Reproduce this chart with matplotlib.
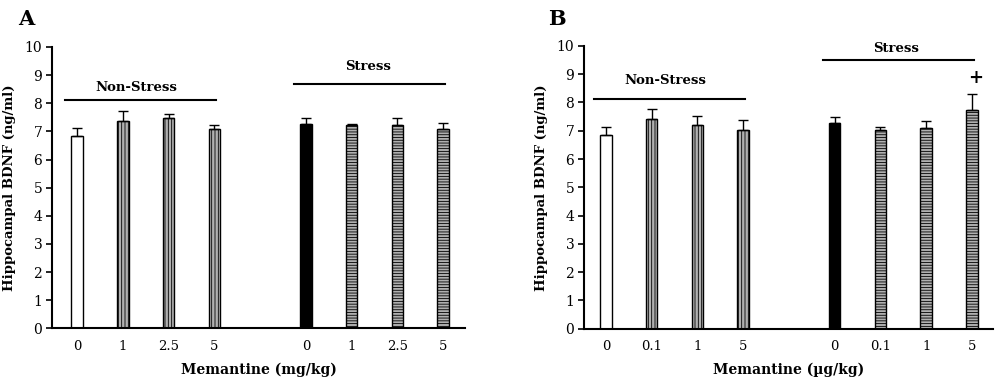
import matplotlib
matplotlib.use("Agg")
import matplotlib.pyplot as plt

plt.rcParams['font.family'] = ['DejaVu Serif']
plt.rcParams['hatch.linewidth'] = 0.6

# bar order: non-stress 4 doses, then stress 4 doses
a_labels = ['0', '1', '2.5', '5', '0', '1', '2.5', '5']
a_means = [6.84, 7.37, 7.48, 7.08, 7.28, 7.21, 7.21, 7.09]
a_sem = [0.29, 0.37, 0.14, 0.16, 0.19, 0.06, 0.27, 0.21]

b_labels = ['0', '0.1', '1', '5', '0', '0.1', '1', '5']
b_means = [6.84, 7.40, 7.19, 7.02, 7.28, 7.02, 7.09, 7.72]
b_sem = [0.28, 0.37, 0.32, 0.35, 0.21, 0.10, 0.27, 0.59]

positions = [0, 1, 2, 3, 5, 6, 7, 8]


def draw_panel(ax, labels, means, sem, xlim, stress_y, stress_txt_y, ns_txt_y):
    faces = ['white', '#b0b0b0', '#b0b0b0', '#b0b0b0', 'black', '#b0b0b0', '#b0b0b0', '#b0b0b0']
    hatches = [None, '|||||', '|||||', '|||||', None, '------', '------', '------']
    for x, m, s, fc, h in zip(positions, means, sem, faces, hatches):
        ax.bar(x, m, width=0.25, color=fc, edgecolor='black', linewidth=1.0,
               hatch=h, zorder=2)
        ax.errorbar(x, m, yerr=[[0], [s]], fmt='none', ecolor='black',
                    elinewidth=1.0, capsize=3.5, capthick=1.0, zorder=3)

    ax.set_xlim(*xlim)
    ax.set_ylim(0, 10)
    ax.set_yticks(range(0, 11))
    ax.set_xticks(positions)
    ax.set_xticklabels(labels)
    ax.tick_params(axis='x', length=0, pad=8, labelsize=9.5)
    ax.tick_params(axis='y', length=4, width=1.2, pad=3, labelsize=10)
    ax.spines['top'].set_visible(False)
    ax.spines['right'].set_visible(False)
    ax.spines['left'].set_linewidth(1.5)
    ax.spines['bottom'].set_linewidth(1.5)

    # group bars
    ax.plot([-0.27, 3.03], [8.13, 8.13], color='black', lw=1.5, clip_on=False)
    ax.text(1.3, ns_txt_y, 'Non-Stress', ha='center', va='center',
            fontsize=9.5, fontweight='bold')
    ax.plot([4.75, 8.05], [stress_y, stress_y], color='black', lw=1.5, clip_on=False)
    ax.text(6.35, stress_txt_y, 'Stress', ha='center', va='center',
            fontsize=9.5, fontweight='bold', clip_on=False)

    ax.set_ylabel('Hippocampal BDNF (ng/ml)', fontsize=9.5, fontweight='bold', labelpad=6)


fig = plt.figure(figsize=(10, 3.85), dpi=100)
ax1 = fig.add_axes([0.052, 0.147, 0.413, 0.731])
ax2 = fig.add_axes([0.584, 0.146, 0.409, 0.735])

draw_panel(ax1, a_labels, a_means, a_sem, (-0.55, 8.48), 8.68, 9.3, 8.56)
draw_panel(ax2, b_labels, b_means, b_sem, (-0.48, 8.46), 9.49, 9.9, 8.79)

ax2.text(8.07, 8.85, '+', ha='center', va='center', fontsize=13, fontweight='bold')

ax1.set_xlabel('Memantine (mg/kg)', fontsize=10, fontweight='bold', labelpad=7)
ax2.set_xlabel('Memantine (\u00b5g/kg)', fontsize=10, fontweight='bold', labelpad=7)

fig.text(0.018, 0.95, 'A', fontsize=15, fontweight='bold', va='center', ha='left')
fig.text(0.548, 0.95, 'B', fontsize=15, fontweight='bold', va='center', ha='left')

fig.savefig('out.png', dpi=100)
